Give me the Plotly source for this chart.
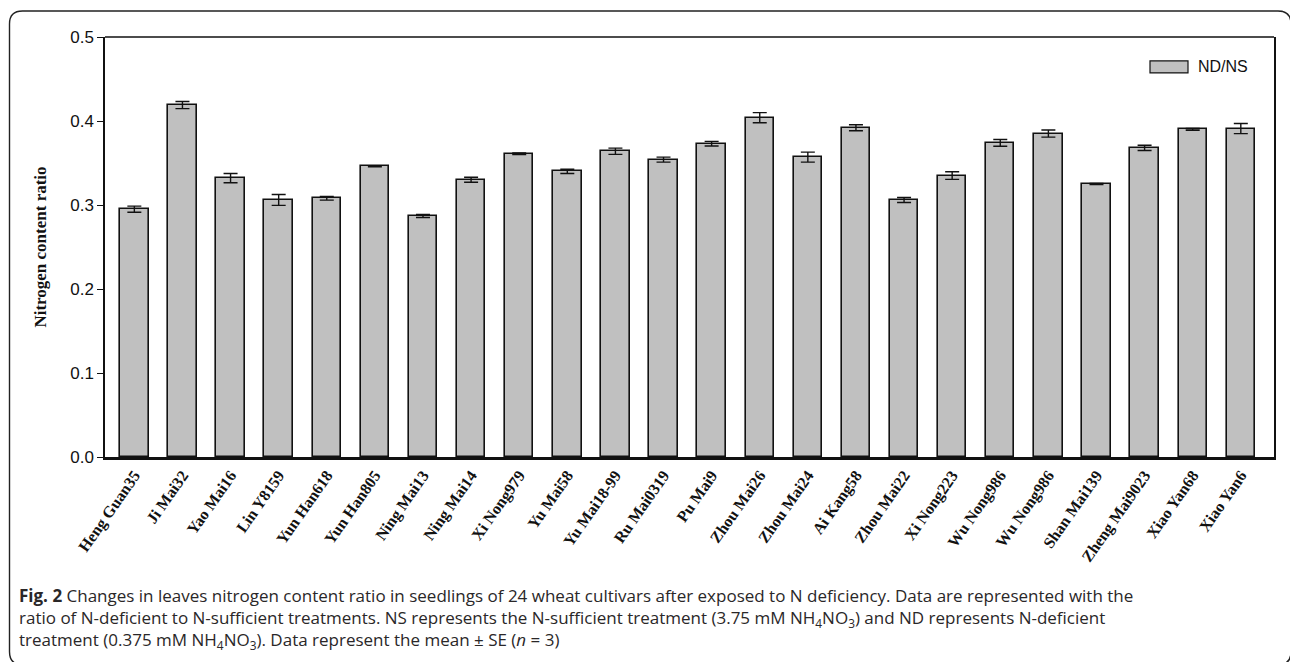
import plotly.graph_objects as go

# Cultivars and ND/NS nitrogen content ratio (mean ± SE)
cultivars = [
    "Heng Guan35", "Ji Mai32", "Yao Mai16", "Lin Y8159", "Yun Han618", "Yun Han805",
    "Ning Mai13", "Ning Mai14", "Xi Nong979", "Yu Mai58", "Yu Mai18-99", "Ru Mai0319",
    "Pu Mai9", "Zhou Mai26", "Zhou Mai24", "Ai Kang58", "Zhou Mai22", "Xi Nong223",
    "Wu Nong986", "Wu Nong986", "Shan Mai139", "Zheng Mai9023", "Xiao Yan68", "Xiao Yan6",
]
ratio = [
    0.295, 0.419, 0.332, 0.306, 0.308, 0.346,
    0.287, 0.330, 0.361, 0.340, 0.364, 0.354,
    0.373, 0.404, 0.357, 0.392, 0.306, 0.335,
    0.374, 0.385, 0.325, 0.368, 0.390, 0.391,
]
se = [
    0.0037, 0.0043, 0.0055, 0.0065, 0.0022, 0.0006,
    0.0018, 0.0030, 0.0010, 0.0025, 0.0037, 0.0030,
    0.0027, 0.0060, 0.0060, 0.0036, 0.0030, 0.0045,
    0.0040, 0.0042, 0.0006, 0.0032, 0.0010, 0.0060,
]
y_ticks = [0.0, 0.1, 0.2, 0.3, 0.4, 0.5]
series_name = "ND/NS"

W, H = 1290, 662
L, R, T, B = 105, 1274, 36.5, 457


def px_x(p):
    return (p - L) / (R - L)


def px_y(p):
    return (B - p) / (B - T)


positions = list(range(len(cultivars)))

fig = go.Figure()
fig.add_trace(go.Bar(
    x=positions, y=ratio, width=0.59, name=series_name,
    marker=dict(color="#C0C0C0", line=dict(color="#111111", width=1.6)),
    error_y=dict(type="data", array=se, visible=True, color="#111111",
                 thickness=1.4, width=7),
    showlegend=False,
))

shapes = [
    # top border of the plot box
    dict(type="line", xref="paper", yref="paper", x0=0, x1=1, y0=1, y1=1,
         line=dict(color="#111111", width=1.5)),
    # legend swatch
    dict(type="rect", xref="paper", yref="paper",
         x0=px_x(1150), x1=px_x(1188), y0=px_y(72.5), y1=px_y(60.5),
         fillcolor="#C0C0C0", line=dict(color="#111111", width=1.2)),
]

# rounded outer frame around figure and caption
fx0, fx1, fy0, fy1, rad = 9.5, 1291, 10.5, 665, 13
frame_pts = [
    ("M", fx0 + rad, fy0), ("L", fx1 - rad, fy0), ("Q", fx1, fy0, fx1, fy0 + rad),
    ("L", fx1, fy1 - rad), ("Q", fx1, fy1, fx1 - rad, fy1),
    ("L", fx0 + rad, fy1), ("Q", fx0, fy1, fx0, fy1 - rad),
    ("L", fx0, fy0 + rad), ("Q", fx0, fy0, fx0 + rad, fy0),
]
path = ""
for seg in frame_pts:
    cmd = seg[0]
    coords = seg[1:]
    pts = []
    for i in range(0, len(coords), 2):
        pts.append(f"{px_x(coords[i]):.5f},{px_y(coords[i + 1]):.5f}")
    path += cmd + " ".join(pts) + " "
shapes.append(dict(type="path", xref="paper", yref="paper", path=path + "Z",
                   line=dict(color="#222222", width=1.4)))

caption = (
    "<b>Fig. 2</b> Changes in leaves nitrogen content ratio in seedlings of 24 wheat cultivars "
    "after exposed to N deficiency. Data are represented with the<br>"
    "ratio of N-deficient to N-sufficient treatments. NS represents the N-sufficient treatment "
    "(3.75 mM NH<sub>4</sub>NO<sub>3</sub>) and ND represents N-deficient<br>"
    "treatment (0.375 mM NH<sub>4</sub>NO<sub>3</sub>). Data represent the mean ± SE (<i>n</i> = 3)"
)

annotations = [
    dict(text=series_name, xref="paper", yref="paper", x=px_x(1196), y=px_y(66.5),
         xanchor="left", yanchor="middle", showarrow=False,
         font=dict(family="Liberation Sans, Arial", size=16, color="#111111")),
    dict(text=caption, xref="paper", yref="paper", x=px_x(17), y=px_y(582),
         xanchor="left", yanchor="top", align="left", showarrow=False,
         font=dict(family="Open Sans", size=17, color="#2A2728")),
]

fig.update_layout(
    width=W, height=H,
    margin=dict(l=L, r=W - R, t=T, b=H - B, pad=0),
    paper_bgcolor="white", plot_bgcolor="white",
    bargap=0,
    shapes=shapes, annotations=annotations,
    xaxis=dict(
        range=[-0.61, 23.69], tickmode="array", tickvals=positions, ticktext=cultivars,
        tickangle=-55, ticks="", showgrid=False, zeroline=False,
        showline=True, linecolor="#111111", linewidth=2.5, mirror=False,
        tickfont=dict(family="Liberation Serif, Times New Roman", size=16,
                      weight="bold", color="#111111"),
    ),
    yaxis=dict(
        range=[0, 0.5], tickmode="array", tickvals=y_ticks, tickformat=".1f",
        ticks="outside", ticklen=6, tickwidth=1.2, tickcolor="#111111",
        showgrid=False, zeroline=False,
        showline=True, linecolor="#111111", linewidth=1.5, mirror=True,
        tickfont=dict(family="Liberation Sans, Arial", size=17, color="#111111"),
        title=dict(text="<b>Nitrogen content ratio</b>", standoff=19,
                   font=dict(family="Liberation Serif, Times New Roman", size=17,
                             color="#111111")),
    ),
)

fig.write_html("out.html")
